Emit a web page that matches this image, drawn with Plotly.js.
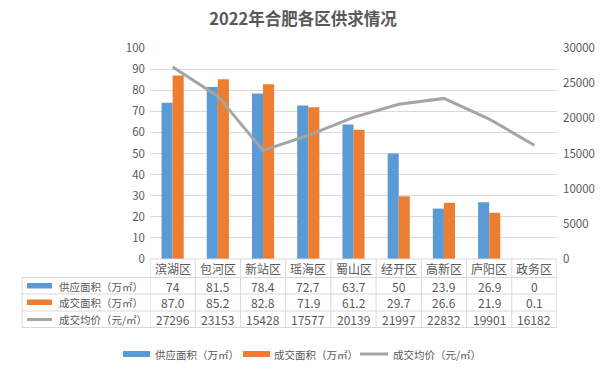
<!DOCTYPE html>
<html>
<head>
<meta charset="utf-8">
<script src="https://cdn.plot.ly/plotly-3.0.1.min.js"></script>
<style>html,body{margin:0;padding:0;background:#fff;}#chart{width:606px;height:373px;}</style>
</head>
<body>
<div id="chart"></div>
<script>
const categories = ['滨湖区','包河区','新站区','瑶海区','蜀山区','经开区','高新区','庐阳区','政务区'];
const supply = [74, 81.5, 78.4, 72.7, 63.7, 50, 23.9, 26.9, 0];
const deal = [87.0, 85.2, 82.8, 71.9, 61.2, 29.7, 26.6, 21.9, 0.1];
const price = [27296, 23153, 15428, 17577, 20139, 21997, 22832, 19901, 16182];
const seriesNames = ['供应面积（万㎡）', '成交面积（万㎡）', '成交均价（元/㎡）'];
const supplyLabels = supply.map(v => String(v));
const dealLabels = deal.map(v => v.toFixed(1));
const priceLabels = price.map(v => String(v));
const titleText = '2022年合肥各区供求情况';

const BLUE = '#5B9BD5', ORANGE = '#ED7D31', GRAY = '#A5A5A5', GRID = '#D9D9D9', TXT = '#595959';
const FONT = 'Noto Sans CJK SC, Microsoft YaHei, sans-serif';

// geometry helpers (pixels -> paper)
const L = 150, R = 557, T = 48, B = 259;
const px = x => (x - L) / (R - L);
const py = y => (B - y) / (B - T);

const traces = [
  {type: 'bar', name: seriesNames[0], x: categories, y: supply, marker: {color: BLUE}, showlegend: false, hoverinfo: 'none'},
  {type: 'bar', name: seriesNames[1], x: categories, y: deal, marker: {color: ORANGE}, showlegend: false, hoverinfo: 'none'},
  {type: 'scatter', mode: 'lines', name: seriesNames[2], x: categories, y: price, yaxis: 'y2', line: {color: GRAY, width: 3}, showlegend: false, hoverinfo: 'none'}
];

const shapes = [];
const annotations = [];
const lineStyle = {color: GRID, width: 1};

// table horizontal lines
const rowLines = [277.5, 294, 311, 327.5];
shapes.push({type: 'line', xref: 'paper', yref: 'paper', x0: px(L), x1: px(R), y0: py(B), y1: py(B), line: lineStyle});
rowLines.forEach(y => shapes.push({type: 'line', xref: 'paper', yref: 'paper', x0: px(22), x1: px(R), y0: py(y), y1: py(y), line: lineStyle}));
// table vertical lines
shapes.push({type: 'line', xref: 'paper', yref: 'paper', x0: px(22), x1: px(22), y0: py(277.5), y1: py(327.5), line: lineStyle});
for (let k = 0; k <= categories.length; k++) {
  shapes.push({type: 'line', xref: 'x', yref: 'paper', x0: k - 0.5, x1: k - 0.5, y0: py(B), y1: py(327.5), line: lineStyle});
}

// header row: categories
const rowCenters = [268.5, 286, 302.5, 319.5];
categories.forEach((c, i) => {
  annotations.push({xref: 'x', yref: 'paper', x: i, y: py(rowCenters[0]), text: c, showarrow: false, font: {family: FONT, size: 12, color: TXT}, xanchor: 'center', yanchor: 'middle'});
});
const rows = [supplyLabels, dealLabels, priceLabels];
rows.forEach((labels, r) => {
  labels.forEach((t, i) => {
    annotations.push({xref: 'x', yref: 'paper', x: i, y: py(rowCenters[r + 1]), text: t, showarrow: false, font: {family: FONT, size: 12, color: TXT}, xanchor: 'center', yanchor: 'middle'});
  });
  annotations.push({xref: 'paper', yref: 'paper', x: px(57), y: py(rowCenters[r + 1]), text: seriesNames[r], showarrow: false, font: {family: FONT, size: 10.5, color: TXT}, xanchor: 'left', yanchor: 'middle'});
});
// table legend keys
shapes.push({type: 'rect', xref: 'paper', yref: 'paper', x0: px(27), x1: px(52), y0: py(283), y1: py(288.5), fillcolor: BLUE, line: {width: 0}});
shapes.push({type: 'rect', xref: 'paper', yref: 'paper', x0: px(27), x1: px(52), y0: py(299.5), y1: py(305), fillcolor: ORANGE, line: {width: 0}});
shapes.push({type: 'line', xref: 'paper', yref: 'paper', x0: px(27), x1: px(52), y0: py(319.5), y1: py(319.5), line: {color: GRAY, width: 3}});

// bottom legend
const legY = 354;
shapes.push({type: 'rect', xref: 'paper', yref: 'paper', x0: px(123), x1: px(150), y0: py(legY - 3), y1: py(legY + 3), fillcolor: BLUE, line: {width: 0}});
shapes.push({type: 'rect', xref: 'paper', yref: 'paper', x0: px(243), x1: px(270), y0: py(legY - 3), y1: py(legY + 3), fillcolor: ORANGE, line: {width: 0}});
shapes.push({type: 'line', xref: 'paper', yref: 'paper', x0: px(360), x1: px(388), y0: py(legY), y1: py(legY), line: {color: GRAY, width: 3}});
[[153, 0], [272, 1], [391, 2]].forEach(([x, i]) => {
  annotations.push({xref: 'paper', yref: 'paper', x: px(x), y: py(legY), text: seriesNames[i], showarrow: false, font: {family: FONT, size: 10.5, color: TXT}, xanchor: 'left', yanchor: 'middle'});
});

const layout = {
  width: 606, height: 373,
  margin: {l: L, r: 606 - R, t: T, b: 373 - B, pad: 0},
  paper_bgcolor: '#fff', plot_bgcolor: '#fff',
  font: {family: FONT, color: TXT, size: 11},
  title: {text: '<b>' + titleText + '</b>', font: {family: FONT, size: 16.5, color: TXT}, x: 0.5, xanchor: 'center', xref: 'container', y: 1 - 19 / 373, yanchor: 'middle', yref: 'container'},
  barmode: 'group', bargap: 0.51, bargroupgap: 0,
  showlegend: false,
  xaxis: {type: 'category', range: [-0.5, categories.length - 0.5], showticklabels: false, showgrid: false, zeroline: false, showline: false, ticks: ''},
  yaxis: {range: [0, 100], dtick: 10, tick0: 0, showgrid: true, gridcolor: GRID, gridwidth: 1, zeroline: false, showline: false, ticks: '', tickfont: {family: FONT, size: 11.5, color: TXT}, ticklabelstandoff: 4},
  yaxis2: {overlaying: 'y', side: 'right', range: [0, 30000], dtick: 5000, tick0: 0, tickformat: 'd', showgrid: false, zeroline: false, showline: false, ticks: '', tickfont: {family: FONT, size: 11.5, color: TXT}, ticklabelstandoff: 5},
  shapes: shapes,
  annotations: annotations
};

Plotly.newPlot('chart', traces, layout, {staticPlot: true, displayModeBar: false});
</script>
</body>
</html>
